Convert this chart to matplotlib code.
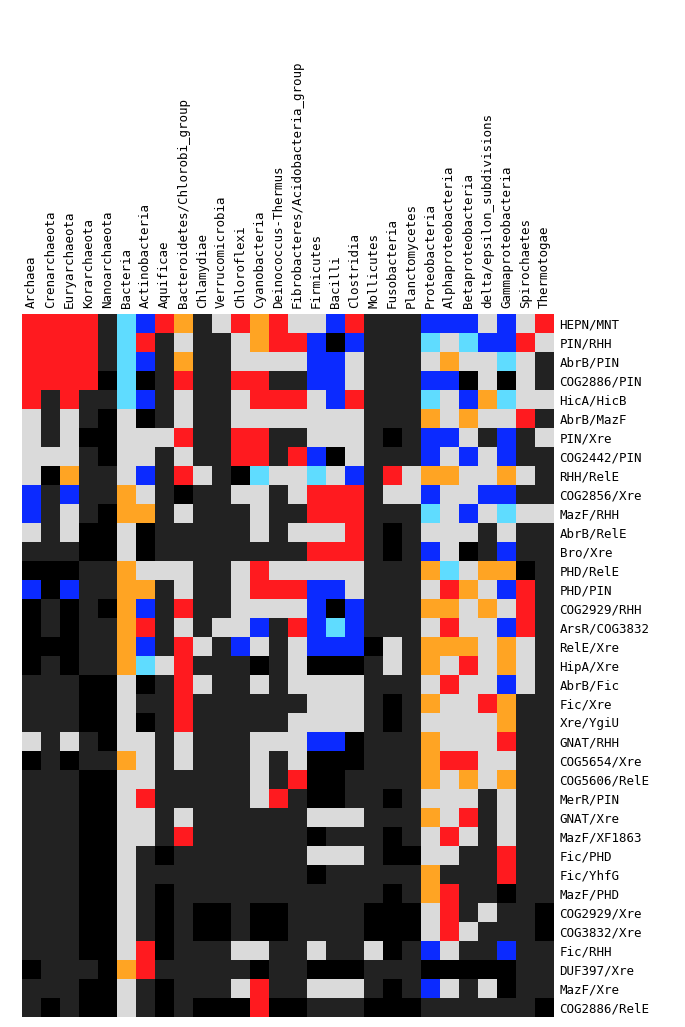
import numpy as np
import matplotlib
matplotlib.use("Agg")
import matplotlib.pyplot as plt
from matplotlib.colors import ListedColormap

taxa = ["Archaea", "Crenarchaeota", "Euryarchaeota", "Korarchaeota", "Nanoarchaeota",
        "Bacteria", "Actinobacteria", "Aquificae", "Bacteroidetes/Chlorobi_group",
        "Chlamydiae", "Verrucomicrobia", "Chloroflexi", "Cyanobacteria",
        "Deinococcus-Thermus", "Fibrobacteres/Acidobacteria_group", "Firmicutes",
        "Bacilli", "Clostridia", "Mollicutes", "Fusobacteria", "Planctomycetes",
        "Proteobacteria", "Alphaproteobacteria", "Betaproteobacteria",
        "delta/epsilon_subdivisions", "Gammaproteobacteria", "Spirochaetes", "Thermotogae"]

families = ["HEPN/MNT", "PIN/RHH", "AbrB/PIN", "COG2886/PIN", "HicA/HicB", "AbrB/MazF",
            "PIN/Xre", "COG2442/PIN", "RHH/RelE", "COG2856/Xre", "MazF/RHH", "AbrB/RelE",
            "Bro/Xre", "PHD/RelE", "PHD/PIN", "COG2929/RHH", "ArsR/COG3832", "RelE/Xre",
            "HipA/Xre", "AbrB/Fic", "Fic/Xre", "Xre/YgiU", "GNAT/RHH", "COG5654/Xre",
            "COG5606/RelE", "MerR/PIN", "GNAT/Xre", "MazF/XF1863", "Fic/PHD", "Fic/YhfG",
            "MazF/PHD", "COG2929/Xre", "COG3832/Xre", "Fic/RHH", "DUF397/Xre", "MazF/Xre",
            "COG2886/RelE"]

# one letter per taxon: K black, D dark, G grey, R red, O orange, B blue, C cyan
cells = [
    "RRRRDCBRODGRORGGBRDDDBBBGBGR",
    "RRRRDCRDGDDGORRBKBDDDCGCBBRG",
    "RRRRDCBDODDGGGGBBGDDDGOGGCGD",
    "RRRRKCKDRDDRRDDBBGDDDBBKGKGD",
    "RDRDDCBDGDDGRRRGBRDDDCGBOCGG",
    "GDGDKGKDGDDGGGGGGGDDDOGOGGRD",
    "GDGKKGGGRDDRRDDGGGDKDBBGDBDG",
    "GGGDKGGDGDDRRDRBKGDDDBGBGBDD",
    "GKODDGBDRGDKCGGCGBDRGOOGGOGD",
    "BDBDDOGDKDDGGDGRRRDGGBGGBBDD",
    "BDGDKOODGDDDGDDRRRDDDCGBGCGG",
    "GDGKKGKDDDDDGDGGGRDKDGGGDGDD",
    "DDDKKGKDDDDDDDDRRRDKDBGKDBDD",
    "KKKDDOGGGDDGRGGGGGDDDOCGOOKD",
    "BKBDDOODGDDGRRRBBGDDDGROGBRD",
    "KDKDKOBDRDDGGGGBKBDDDOOGOGRD",
    "KDKDDORDGDGGBDRBCBDDDGRGGBRD",
    "KKKDDOBDRGDBGDGBBBKGDOOOGOGD",
    "KDKDDOCGRDDDKDGKKKDGDOGRGOGD",
    "DDDKKGKDRGDDGDGGGGDDDGRGGBGD",
    "DDDKKGDDRDDDDDDGGGDKDOGGRODD",
    "DDDKKGKDRDDDDDGGGGDKDGGGGODD",
    "GDGDKGGDGDDDGGGBBKDDDOGGGRDD",
    "KDKDDOGDGDDDGDGKKKDDDORRGGDD",
    "DDDKKGGDDDDDGDRKKDDDDOGOGODD",
    "DDDKKGRDDDDDGRDKKDDKDGGGDGDD",
    "DDDKKGGDGDDDDDDGGGDDDOGRDGDD",
    "DDDKKGGDRDDDDDDKDDDKDGRGDGDD",
    "DDDKKGDKDDDDDDDGGGDKKGGDDRDD",
    "DDDKKGDDDDDDDDDKDDDDDODDDRDD",
    "DDDKKGDKDDDDDDDDDDDKDORDDKDD",
    "DDDKKGDKDKKDKKDDDDKKKGRDGDDK",
    "DDDKKGDKDKKDKKDDDDKKKGRGDDDK",
    "DDDKKGRKDDDGGDDGDDGKDBGDDBDD",
    "KDDDKORDDDDDKDDKKKDDDKKKKKDD",
    "DDDKKGDKDDDGRDDGGGDKDBGDGKDD",
    "DKDKKGDKDKKKRKKDDDKKKDDDDDDK",
]

codes = "KDGROBC"
palette = ["#000000", "#222222", "#dadada", "#ff1a1f", "#ffa423", "#0b2aff", "#5fdcff"]

grid = np.array([[codes.index(c) for c in row] for row in cells])

fig = plt.figure(figsize=(6.85, 10.27), dpi=100)
W, H = 685, 1027
ax = fig.add_axes([22 / W, 10 / H, 532 / W, 703 / H])
ax.imshow(grid, cmap=ListedColormap(palette), vmin=-0.5, vmax=len(palette) - 0.5,
          aspect="auto", interpolation="nearest")

ax.set_xticks(range(len(taxa)))
ax.set_xticklabels(taxa, rotation=90, fontsize=9, family="DejaVu Sans Mono")
ax.xaxis.tick_top()
ax.set_yticks(range(len(families)))
ax.set_yticklabels(families, fontsize=9, family="DejaVu Sans Mono")
ax.yaxis.tick_right()
ax.tick_params(length=0, pad=4)
for s in ax.spines.values():
    s.set_visible(False)

fig.savefig("out.png", dpi=100)
